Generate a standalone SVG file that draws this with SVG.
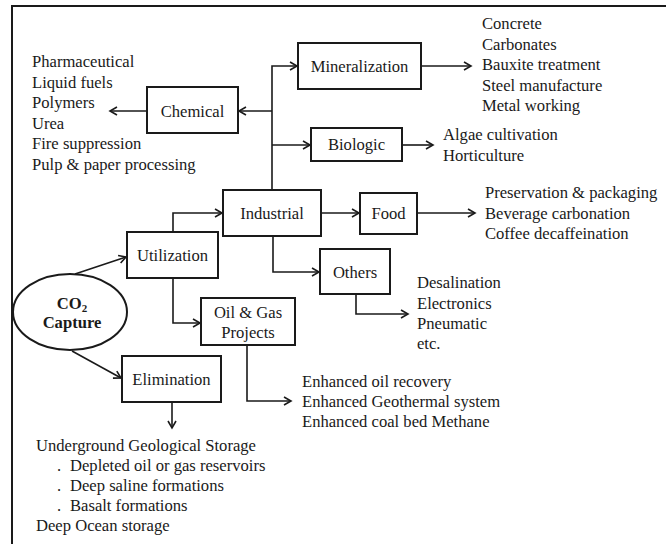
<svg xmlns="http://www.w3.org/2000/svg" width="666" height="544" viewBox="0 0 666 544">
<style>
text{font-family:"Liberation Serif","Times New Roman",serif;font-size:16.6px;fill:#1a1a1a}
.c{text-anchor:middle}
.b{font-weight:bold}
.box{fill:#fff;stroke:#1a1a1a;stroke-width:2}
.ln{fill:none;stroke:#1a1a1a;stroke-width:1.6;marker-end:url(#ah)}
</style>
<defs>
<marker id="ah" markerUnits="userSpaceOnUse" markerWidth="12" markerHeight="12" refX="8" refY="5" orient="auto">
<path d="M1,1 L8,5 L1,9" fill="none" stroke="#1a1a1a" stroke-width="1.6"/>
</marker>
</defs>
<rect width="666" height="544" fill="#fff"/>
<path d="M12,544 V6 H666" fill="none" stroke="#1a1a1a" stroke-width="2"/>
<g id="connectors">
<path class="ln" d="M272,190 V66 H297"/>
<path class="ln" d="M272,111 H239"/>
<path class="ln" d="M272,145 H310"/>
<path class="ln" d="M147,111 H110"/>
<path class="ln" d="M421,66 H471"/>
<path class="ln" d="M402,145 H433"/>
<path class="ln" d="M321,213 H359"/>
<path class="ln" d="M417,213 H475"/>
<path class="ln" d="M273,236 V272 H319"/>
<path class="ln" d="M356,294 V314 H408"/>
<path class="ln" d="M173,232 V213 H222"/>
<path class="ln" d="M173,278 V323 H200"/>
<path class="ln" d="M247,345 V401 H291"/>
<path class="ln" d="M75,274 L126,257"/>
<path class="ln" d="M72,351 L121,378"/>
<path class="ln" d="M172,402 V428"/>
</g>
<g id="co2">
<ellipse cx="70" cy="312" rx="57" ry="38" fill="#fff" stroke="#1a1a1a" stroke-width="2"/>
<text class="c b" x="72" y="309">CO<tspan font-size="11" dy="3">2</tspan></text>
<text class="c b" x="72" y="328">Capture</text>
</g>
<g id="chemical">
<rect class="box" x="147" y="87" width="91" height="46"/>
<text class="c" x="192.5" y="117">Chemical</text>
</g>
<g id="mineralization">
<rect class="box" x="298" y="43" width="123" height="46"/>
<text class="c" x="359.5" y="72">Mineralization</text>
</g>
<g id="biologic">
<rect class="box" x="311" y="128" width="91" height="33"/>
<text class="c" x="356.5" y="150">Biologic</text>
</g>
<g id="industrial">
<rect class="box" x="223" y="190" width="98" height="46"/>
<text class="c" x="272" y="219">Industrial</text>
</g>
<g id="food">
<rect class="box" x="360" y="193" width="57" height="41"/>
<text class="c" x="388.5" y="219">Food</text>
</g>
<g id="others">
<rect class="box" x="320" y="249" width="70" height="45"/>
<text class="c" x="355" y="278">Others</text>
</g>
<g id="utilization">
<rect class="box" x="127" y="232" width="91" height="46"/>
<text class="c" x="172.5" y="261">Utilization</text>
</g>
<g id="oilgas">
<rect class="box" x="201" y="298" width="94" height="47"/>
<text class="c" x="248" y="318">Oil &amp; Gas</text>
<text class="c" x="248" y="338">Projects</text>
</g>
<g id="elimination">
<rect class="box" x="122" y="356" width="99" height="46"/>
<text class="c" x="171.5" y="385">Elimination</text>
</g>
<g id="chemical-list">
<text x="32" y="67">Pharmaceutical</text>
<text x="32" y="87.6">Liquid fuels</text>
<text x="32" y="108.2">Polymers</text>
<text x="32" y="128.8">Urea</text>
<text x="32" y="149.4">Fire suppression</text>
<text x="32" y="170">Pulp &amp; paper processing</text>
</g>
<g id="mineralization-list">
<text x="482" y="29">Concrete</text>
<text x="482" y="49.5">Carbonates</text>
<text x="482" y="70">Bauxite treatment</text>
<text x="482" y="90.5">Steel manufacture</text>
<text x="482" y="111">Metal working</text>
</g>
<g id="biologic-list">
<text x="443" y="140">Algae cultivation</text>
<text x="443" y="160.5">Horticulture</text>
</g>
<g id="food-list">
<text x="485" y="198">Preservation &amp; packaging</text>
<text x="485" y="218.5">Beverage carbonation</text>
<text x="485" y="239">Coffee decaffeination</text>
</g>
<g id="others-list">
<text x="417" y="288">Desalination</text>
<text x="417" y="308.5">Electronics</text>
<text x="417" y="329">Pneumatic</text>
<text x="417" y="349">etc.</text>
</g>
<g id="oilgas-list">
<text x="302" y="387">Enhanced oil recovery</text>
<text x="302" y="407">Enhanced Geothermal system</text>
<text x="302" y="427">Enhanced coal bed Methane</text>
</g>
<g id="elimination-list">
<text x="36" y="451">Underground Geological Storage</text>
<text x="57" y="471">.<tspan x="70">Depleted oil or gas reservoirs</tspan></text>
<text x="57" y="491">.<tspan x="70">Deep saline formations</tspan></text>
<text x="57" y="511">.<tspan x="70">Basalt formations</tspan></text>
<text x="36" y="531">Deep Ocean storage</text>
</g>
</svg>
